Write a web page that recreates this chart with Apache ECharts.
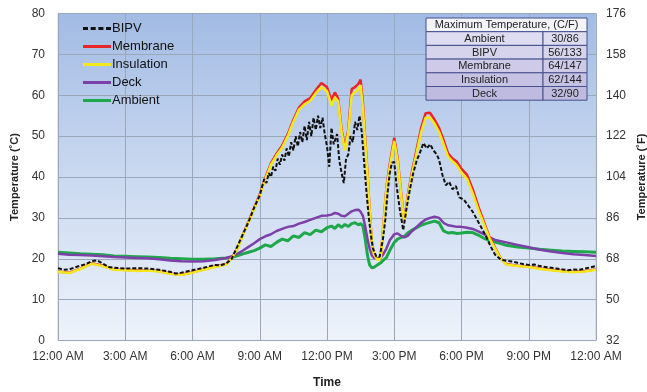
<!DOCTYPE html>
<html>
<head>
<meta charset="utf-8">
<script src="https://cdn.jsdelivr.net/npm/echarts@6/dist/echarts.min.js"></script>
<style>
  html, body { margin: 0; padding: 0; background: #fff; }
  #chart { width: 647px; height: 392px; }
</style>
</head>
<body>
<div id="chart"></div>
<script>
// time of day in hours, shared by membrane / insulation / deck / ambient
const hours = [0, 0.5, 1, 1.5, 2, 2.5, 3, 3.5, 4, 4.5, 5, 5.5, 6, 6.5, 7, 7.5, 7.8, 8.0,
  8.25, 8.5, 8.75, 9, 9.25, 9.5, 9.75, 10, 10.25, 10.5, 10.75, 11, 11.25, 11.5, 11.75, 12,
  12.2, 12.35, 12.5, 12.65, 12.8, 12.95, 13.1, 13.25, 13.4, 13.5, 13.6, 13.7, 13.8, 13.9, 14.0, 14.1,
  14.25, 14.4, 14.5, 14.65, 14.8, 15.0, 15.15, 15.3, 15.45, 15.6, 15.8,
  16.0, 16.2, 16.4, 16.6, 16.8, 17.0, 17.2, 17.4, 17.6, 17.8, 18.0,
  18.25, 18.5, 18.75, 19.0, 19.25, 19.5, 19.75, 20.0,
  20.5, 21, 21.5, 22, 22.5, 23, 23.5, 24];

const insulation = [16.8, 16.5, 17.5, 18.8, 18.2, 17.3, 17.2, 17.0, 17.1, 16.9, 16.3, 16.0, 16.6, 17.3, 18.0, 18.6, 20.5, 22.5,
  25.8, 29.0, 32.2, 35.5, 39.5, 43.0, 45.3, 47.2, 50.0, 53.5, 56.5, 57.8, 58.6, 60.5, 62.0, 61.0,
  57.5, 59.5, 58.5, 51.0, 46.5, 51.0, 60.0, 60.8, 61.5, 62.5, 57.0, 49.0, 41.0, 32.0, 24.0, 21.0,
  19.6, 20.3, 27.0, 37.0, 42.5, 48.8, 44.0, 36.0, 28.7, 35.0, 41.0,
  46.0, 51.0, 54.5, 54.5, 53.0, 51.0, 48.0, 45.0, 43.8, 42.8, 41.0,
  39.5, 36.0, 32.0, 28.5, 25.0, 22.5, 20.0, 18.6,
  18.2, 18.0, 17.5, 17.2, 16.9, 16.7, 16.9, 17.3];

const membrane = [16.9, 16.6, 17.6, 18.9, 18.3, 17.4, 17.3, 17.1, 17.2, 17.0, 16.4, 16.1, 16.7, 17.4, 18.1, 18.7, 20.6, 22.6,
  25.9, 29.2, 32.4, 35.8, 39.8, 43.4, 45.7, 47.7, 50.5, 54.0, 57.0, 58.5, 59.3, 61.3, 63.0, 62.0,
  58.7, 60.7, 59.2, 51.6, 47.0, 51.6, 61.5, 62.0, 62.8, 63.8, 58.2, 49.6, 41.4, 32.3, 24.2, 21.1,
  19.7, 20.4, 27.2, 37.4, 43.2, 49.6, 44.6, 36.4, 29.0, 35.4, 41.6,
  46.8, 52.0, 55.6, 55.7, 54.0, 52.0, 49.0, 45.8, 44.5, 43.7, 42.0,
  40.5, 37.0, 32.8, 29.0, 25.3, 22.7, 20.1, 18.7,
  18.3, 18.1, 17.6, 17.3, 17.0, 16.8, 17.0, 17.4];

const deck = [21.2, 21.0, 20.9, 20.8, 20.6, 20.4, 20.3, 20.2, 20.1, 19.9, 19.6, 19.4, 19.3, 19.4, 19.7, 20.2, 20.7, 21.2,
  22.0, 22.9, 23.8, 24.8, 25.5, 26.0, 26.8, 27.3, 27.8, 28.0, 28.6, 29.0, 29.5, 30.0, 30.5, 30.6,
  30.8, 31.2, 31.0, 30.5, 30.4, 31.0, 31.6, 31.9, 32.0, 31.5, 30.5, 28.0, 25.0, 22.5, 20.8, 20.2,
  20.0, 20.3, 21.0, 22.5, 24.5, 26.0, 26.2, 25.6, 25.2, 25.6, 26.8,
  27.8, 28.8, 29.6, 30.0, 30.3, 30.0, 28.8, 28.2, 28.0, 27.8, 27.8,
  27.6, 27.3, 26.7, 26.0, 25.2, 24.6, 24.3, 24.0,
  23.4, 22.8, 22.2, 21.8, 21.4, 21.1, 20.9, 20.7];

const ambient = [21.6, 21.4, 21.2, 21.1, 21.0, 20.7, 20.6, 20.5, 20.4, 20.3, 20.1, 20.0, 19.9, 19.9, 20.0, 20.2, 20.4, 20.7,
  21.2, 21.6, 22.0, 22.6, 23.4, 23.0, 24.0, 24.8, 24.4, 25.6, 25.2, 26.4, 25.9, 27.0, 26.6, 27.6,
  28.0, 27.4, 28.3, 27.7, 28.4, 27.9, 28.6, 28.8, 28.3, 28.6, 28.0, 25.0, 21.0, 18.5, 17.8, 17.9,
  18.5, 19.0, 19.6, 20.3, 22.0, 24.0, 24.8, 25.2, 25.5, 26.3, 27.0,
  27.6, 28.2, 28.6, 28.9, 29.2, 28.8, 26.8, 26.3, 26.4, 26.2, 26.3,
  26.5, 26.4, 25.8, 25.0, 24.5, 24.1, 23.7, 23.3,
  22.9, 22.6, 22.3, 22.1, 21.9, 21.8, 21.7, 21.6];

// BIPV is noisier, so it gets its own finer time base
const bipvHours = [0, 0.25, 0.5, 0.75, 1, 1.25, 1.5, 1.75, 2, 2.25, 2.5, 3, 3.5, 4, 4.5, 5, 5.25, 5.5, 6, 6.5, 7, 7.25, 7.5, 7.75,
  8, 8.25, 8.5, 8.75, 9, 9.1, 9.2, 9.3, 9.4, 9.5, 9.6, 9.7, 9.8, 9.9, 10, 10.1, 10.2, 10.3, 10.4, 10.5, 10.6, 10.7, 10.8, 10.9,
  11, 11.1, 11.2, 11.3, 11.4, 11.5, 11.6, 11.7, 11.8, 11.9, 12, 12.1, 12.2, 12.3, 12.45, 12.55, 12.65, 12.75, 12.85, 12.95,
  13.05, 13.15, 13.25, 13.35, 13.45, 13.55, 13.65, 13.75, 13.85, 13.95, 14.05, 14.2, 14.35, 14.5, 14.6, 14.7, 14.8, 14.9,
  15, 15.1, 15.25, 15.4, 15.55, 15.7, 15.85, 16, 16.15, 16.3, 16.45, 16.6, 16.75, 16.9, 17, 17.15, 17.3, 17.45, 17.6, 17.75,
  17.9, 18.1, 18.3, 18.5, 18.7, 18.9, 19.1, 19.3, 19.5, 19.75, 20, 20.25, 20.5, 20.75, 21, 21.25, 21.5, 21.75, 22, 22.25,
  22.5, 22.75, 23, 23.25, 23.5, 23.75, 24];

const bipv = [17.7, 17.3, 17.4, 17.9, 18.3, 18.7, 19.4, 19.6, 18.8, 18.0, 17.8, 17.6, 17.7, 17.6, 17.3, 16.8, 16.4, 16.6, 17.2, 17.8, 18.5, 18.4, 18.8, 20.0,
  23.0, 26.0, 29.0, 32.5, 35.5, 37.5, 39.5, 38.5, 41.0, 40.0, 42.5, 41.5, 44.5, 43.0, 45.5, 44.0, 47.0, 45.0, 48.5, 46.5, 50.0, 47.5, 51.0, 48.5,
  52.5, 49.0, 53.5, 50.0, 54.5, 51.5, 55.0, 52.0, 54.5, 50.5, 47.5, 42.5, 52.0, 48.0, 50.5, 44.0, 41.0, 38.5, 44.5, 45.5,
  50.0, 48.5, 53.5, 51.5, 55.0, 51.0, 44.0, 37.0, 31.0, 26.0, 22.5, 20.5, 20.5, 25.0, 29.5, 36.0, 41.0, 43.5,
  43.7, 38.0, 32.0, 27.0, 32.5, 37.0, 41.0, 44.0, 46.0, 48.3, 47.0, 48.0, 46.5, 45.5, 44.2, 40.5, 38.0, 38.8, 37.0, 37.8,
  35.0, 34.5, 33.0, 31.5, 29.5, 27.5, 25.4, 23.0, 21.0, 19.8, 19.5, 19.3, 19.0, 18.7, 18.5, 18.6, 18.2, 18.0, 17.8, 17.6,
  17.4, 17.2, 17.4, 17.3, 17.6, 17.9, 18.2];

const timeLabels = ['12:00 AM', '3:00 AM', '6:00 AM', '9:00 AM', '12:00 PM', '3:00 PM', '6:00 PM', '9:00 PM', '12:00 AM'];

const tableNames = ['Ambient', 'BIPV', 'Membrane', 'Insulation', 'Deck'];
const tableValues = ['30/86', '56/133', '64/147', '62/144', '32/90'];
const rowColors = ['#dedcf1', '#d6d3ec', '#cecae7', '#c6c2e3', '#bfbadf'];

const pair = (xs, ys) => xs.map((x, i) => [x, ys[i]]);

const chart = echarts.init(document.getElementById('chart'));

// max temperature table, top right: cells low, text above them
const tx = 426, ty = 18, colSplit = 543, tRight = 587, rowH = 13.7;
const cellFont = '11px "Liberation Sans", Arial';
const cell = (x, y, w, fill) => ({
  type: 'rect', z: 20, z2: 0, shape: { x, y, width: w, height: rowH },
  style: { fill, stroke: '#45508c', lineWidth: 1 }
});
const label = (x, y, text) => ({
  type: 'text', z: 21, z2: 10, x, y: y + rowH / 2 + 0.5,
  style: { text, fill: '#222', font: cellFont, align: 'center', verticalAlign: 'middle' }
});
const tableEls = [cell(tx, ty, tRight - tx, '#f3f3f9'), label((tx + tRight) / 2, ty, 'Maximum Temperature, (C/F)')];
tableNames.forEach((n, i) => {
  const y = ty + rowH * (i + 1);
  tableEls.push(cell(tx, y, colSplit - tx, rowColors[i]));
  tableEls.push(cell(colSplit, y, tRight - colSplit, rowColors[i]));
  tableEls.push(label((tx + colSplit) / 2, y, n));
  tableEls.push(label((colSplit + tRight) / 2, y, tableValues[i]));
});

const solidIcon = 'path://M0,0H28V3H0Z';
const dashIcon = 'path://M0,0H5V3H0Z M7.7,0H12.7V3H7.7Z M15.4,0H20.4V3H15.4Z M23,0H28V3H23Z';

const lineSeries = (name, data, color, width, type) => ({
  name, type: 'line', data, showSymbol: false, symbol: 'none',
  lineStyle: { color, width, type: type || 'solid' },
  itemStyle: { color },
  z: 3
});

chart.setOption({
  animation: false,
  textStyle: { fontFamily: '"Liberation Sans", Arial, sans-serif' },
  grid: {
    left: 58, right: 51, top: 13.5, bottom: 51.5, show: true,
    outerBoundsMode: 'none',
    borderColor: '#c8cfd9', borderWidth: 1,
    backgroundColor: new echarts.graphic.LinearGradient(0, 0, 0, 1, [
      { offset: 0, color: '#a2bbe4' },
      { offset: 0.5, color: '#cad9f0' },
      { offset: 1, color: '#eef3fb' }
    ])
  },
  legend: {
    orient: 'vertical', left: 78, top: 16, itemGap: 3,
    itemWidth: 28, itemHeight: 3,
    textStyle: { fontSize: 13, color: '#111', padding: [0, 0, 0, -4], lineHeight: 15 },
    data: [
      { name: 'BIPV', icon: dashIcon, itemStyle: { color: '#111' } },
      { name: 'Membrane', icon: solidIcon, itemStyle: { color: '#e8262a' } },
      { name: 'Insulation', icon: solidIcon, itemStyle: { color: '#f4e81c' } },
      { name: 'Deck', icon: solidIcon, itemStyle: { color: '#7d3fa8' } },
      { name: 'Ambient', icon: solidIcon, itemStyle: { color: '#1ea84a' } }
    ]
  },
  xAxis: {
    type: 'value', min: 0, max: 24, interval: 3,
    name: 'Time', nameLocation: 'middle', nameGap: 36,
    nameTextStyle: { fontWeight: 'bold', fontSize: 12, color: '#222' },
    axisLine: { show: false }, axisTick: { show: false },
    axisLabel: { color: '#333', fontSize: 12, margin: 10, formatter: (v) => timeLabels[v / 3] },
    splitLine: { show: true, lineStyle: { color: '#9ba8ba', width: 1 } }
  },
  yAxis: [
    {
      type: 'value', min: 0, max: 80, interval: 10, position: 'left',
      name: 'Temperature (˚C)', nameLocation: 'middle', nameGap: 34,
      nameTextStyle: { fontWeight: 'bold', fontSize: 11, color: '#222' },
      axisLine: { show: false }, axisTick: { show: false },
      axisLabel: { color: '#333', fontSize: 12, margin: 13 },
      splitLine: { show: true, lineStyle: { color: '#9ba8ba', width: 1 } }
    },
    {
      // same scale as the Celsius axis, labelled in Fahrenheit
      type: 'value', min: 0, max: 80, interval: 10, position: 'right',
      name: 'Temperature (˚F)', nameLocation: 'middle', nameGap: 40, nameRotate: 90,
      nameTextStyle: { fontWeight: 'bold', fontSize: 11, color: '#222' },
      axisLine: { show: false }, axisTick: { show: false },
      axisLabel: { color: '#333', fontSize: 12, margin: 10, formatter: (v) => Math.round(v * 1.8 + 32) },
      splitLine: { show: false }
    }
  ],
  series: [
    lineSeries('Ambient', pair(hours, ambient), '#1ea84a', 3),
    lineSeries('Deck', pair(hours, deck), '#7d3fa8', 2.5),
    lineSeries('Membrane', pair(hours, membrane), '#e8262a', 2.5),
    lineSeries('Insulation', pair(hours, insulation), '#f4e81c', 2.5),
    lineSeries('BIPV', pair(bipvHours, bipv), '#111111', 2, [4, 2])
  ],
  graphic: tableEls
});
</script>
</body>
</html>
